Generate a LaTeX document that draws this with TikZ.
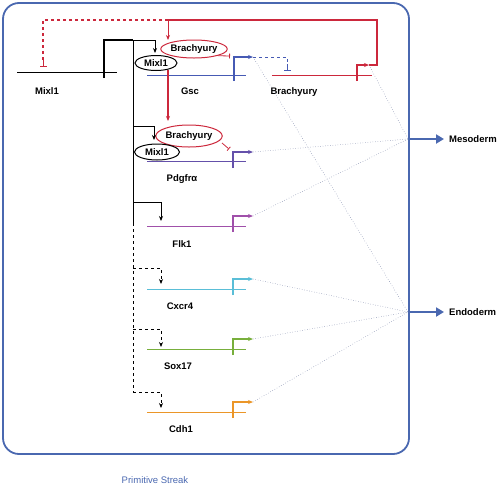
\documentclass[tikz,border=0pt]{standalone}
\usepackage{fontspec}
\setmainfont{Liberation Sans}
\usetikzlibrary{
  shapes.geometric
  , calc
  , arrows.meta
  , positioning
}
\definecolor{frameblue}{RGB}{74,104,176}
\definecolor{brared}{RGB}{204,40,60}
\definecolor{gscblue}{RGB}{70,90,180}
\definecolor{pdgpurple}{RGB}{100,80,170}
\definecolor{flkpurple}{RGB}{160,80,170}
\definecolor{cxccyan}{RGB}{90,190,215}
\definecolor{soxgreen}{RGB}{120,175,60}
\definecolor{cdhorange}{RGB}{235,150,40}
\definecolor{linkgray}{RGB}{120,130,165}
\tikzset{
  genelabel/.style={font=\fontsize{9.5}{11}\selectfont\bfseries, inner sep=1pt},
  protein/.style={draw, ellipse, inner sep=0pt, line width=1pt,
    font=\fontsize{9.5}{11}\selectfont\bfseries},
  genebody/.style={line width=0.8pt},
  promoter/.style={line width=1.2pt, -{Stealth[length=5pt,width=4pt]}},
  activate/.style={line width=1pt, -{Stealth[length=5pt,width=4pt]}},
  repress/.style={line width=1pt, -{Bar[width=7pt]}},
  link/.style={dotted, line width=0.5pt, color=linkgray},
  fate/.style={line width=2.5pt, color=frameblue, -{Triangle[length=8pt,width=9pt]}},
}
\begin{document}
\begin{tikzpicture}[x=1pt, y=-1pt]
  \useasboundingbox (0,0) rectangle (500,488);

  % frame of the streak
  \draw[frameblue, line width=1.8pt, rounded corners=16pt] (3,3) rectangle (409,454);
  \node[text=frameblue, font=\fontsize{9.5}{11}\selectfont] (Strk) at (155,480) {Primitive Streak};

  % fates
  \coordinate (MesoIn) at (408,139);
  \coordinate (EndoIn) at (408,312);
  \node[genelabel, anchor=west] (Meso) at (448,139) {Mesoderm};
  \node[genelabel, anchor=west] (Endo) at (448,312) {Endoderm};
  \draw[fate] (MesoIn) -- ([xshift=-4pt]Meso.west);
  \draw[fate] (EndoIn) -- ([xshift=-4pt]Endo.west);

  % Mixl1 gene
  \draw[genebody] (17,72) -- (117,72);
  \node[genelabel] (MixlG) at (47,91) {Mixl1};
  \draw[line width=1.1pt] (104,78) -- (104,40) -- (133,40);
  \draw[activate] (133,40) -| (155,53);
  \draw[line width=1pt] (133,40) -- (133,223);
  \draw[line width=1pt, dashed] (133,223) -- (133,392);

  % Gsc gene
  \draw[genebody, gscblue] (147,75) -- (246,75);
  \draw[promoter, gscblue] (234,81) -- (234,57) -- (253,57) coordinate (GscTip);
  \node[genelabel] (GscG) at (190,91) {Gsc};
  \draw[line width=1pt, gscblue, dashed] (GscTip) -- (287,57) -- (287,65);
  \draw[repress, gscblue] (287,64) -- (287,71);

  % proteins on the Gsc promoter
  \node[protein, brared, text=black, minimum width=64pt, minimum height=18pt] (BraA) at (194,49) {Brachyury};
  \node[protein, minimum width=42pt, minimum height=15pt, fill=white] (MixlA) at (156,63) {Mixl1};

  % Brachyury gene
  \draw[genebody, brared] (272,75) -- (372,75);
  \draw[promoter, brared] (357,81) -- (357,65) -- (369,65) coordinate (BraTip);
  \node[genelabel] (BraG) at (294,92) {Brachyury};
  \draw[line width=1.2pt, brared] (BraTip) -- (377,65) -- (377,20) -- (168,20);
  \draw[activate, brared] (168,20) -- (168,40);
  \draw[line width=1.2pt, brared, dashed] (168,20) -- (43,20) -- (43,60);
  \draw[repress, brared] (43,58) -- (43,67);
  \draw[repress, brared, line width=0.8pt, -{Bar[width=5pt]}] (BraA.south east) -- (230,56);
  \draw[activate, brared, line width=1.2pt] (168,70) -- (168,121);

  % Pdgfra gene
  \draw[genebody, pdgpurple] (147,161) -- (246,161);
  \draw[promoter, pdgpurple] (233,168) -- (233,152) -- (253,152) coordinate (PdgTip);
  \node[genelabel] (PdgG) at (182,179) {Pdgfrα};
  \node[protein, brared, text=black, minimum width=58pt, minimum height=22pt] (BraB) at (189,136) {Brachyury};
  \node[protein, minimum width=45pt, minimum height=16pt, fill=white] (MixlB) at (157,152) {Mixl1};
  \draw[activate] (133,126) -| (154,140);
  \draw[repress, brared, line width=0.8pt, -{Bar[width=5pt]}] (222,143) -- (229,149);

  % Flk1 gene
  \draw[activate] (133,202) -| (161,221);
  \draw[genebody, flkpurple] (147,226) -- (246,226);
  \draw[promoter, flkpurple] (233,232) -- (233,216) -- (253,216) coordinate (FlkTip);
  \node[genelabel] (FlkG) at (182,244) {Flk1};

  % Cxcr4 gene
  \draw[activate, dashed] (133,268) -| (161,284);
  \draw[genebody, cxccyan] (147,289) -- (246,289);
  \draw[promoter, cxccyan] (233,295) -- (233,279) -- (253,279) coordinate (CxcTip);
  \node[genelabel] (CxcG) at (180,306) {Cxcr4};

  % Sox17 gene
  \draw[activate, dashed] (133,329) -| (161,347);
  \draw[genebody, soxgreen] (147,349) -- (246,349);
  \draw[promoter, soxgreen] (233,355) -- (233,339) -- (253,339) coordinate (SoxTip);
  \node[genelabel] (SoxG) at (178,366) {Sox17};

  % Cdh1 gene
  \draw[activate, dashed] (133,392) -| (161,408);
  \draw[genebody, cdhorange] (147,412) -- (246,412);
  \draw[promoter, cdhorange] (233,418) -- (233,402) -- (253,402) coordinate (CdhTip);
  \node[genelabel] (CdhG) at (181,429) {Cdh1};

  % links to the fates
  \draw[link] (BraTip) -- (MesoIn);
  \draw[link] (PdgTip) -- (MesoIn);
  \draw[link] (FlkTip) -- (MesoIn);
  \draw[link] (GscTip) -- (EndoIn);
  \draw[link] (CxcTip) -- (EndoIn);
  \draw[link] (SoxTip) -- (EndoIn);
  \draw[link] (CdhTip) -- (EndoIn);
\end{tikzpicture}
\end{document}
